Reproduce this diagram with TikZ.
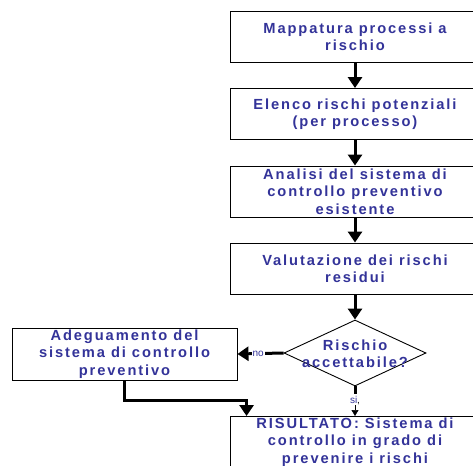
\documentclass[tikz,border=0pt]{standalone}
\usepackage{fontspec}
\setmainfont{Liberation Sans}
\newfontfamily\lsf[LetterSpace=13]{Liberation Sans Bold}
\usetikzlibrary{arrows.meta,shapes.geometric}
\definecolor{txtblue}{RGB}{51,51,153}
\tikzset{
  stepbox/.style={draw=black, line width=0.9pt, fill=white, minimum width=250pt, minimum height=51pt,
    inner sep=0pt, align=center, font=\lsf\fontsize{14.67}{17.3}\selectfont, text=txtblue},
  decision/.style={diamond, draw=black, line width=0.9pt, fill=white, minimum width=142pt, minimum height=66pt,
    aspect=2.15, inner sep=0pt},
  dtext/.style={align=center, inner sep=0pt, font=\lsf\fontsize{14.67}{17}\selectfont, text=txtblue},
  flow/.style={line width=3pt, -{Triangle[length=11pt,width=14pt]}},
  lbl/.style={font=\fontsize{10}{11}\selectfont, text=txtblue, fill=white, inner sep=1pt}
}
\begin{document}
\begin{tikzpicture}[x=1pt,y=-1pt]
\useasboundingbox (0,0) rectangle (473,465);
\clip (0,0) rectangle (473,465);
\node[stepbox] (b1) at (355,36.5) {Mappatura processi a\\rischio};
\node[stepbox] (b2) at (355,114) {Elenco rischi potenziali\\(per processo)};
\node[stepbox] (b3) at (355,191.5) {Analisi del sistema di\\controllo preventivo\\esistente};
\node[stepbox] (b4) at (355,268.5) {Valutazione dei rischi\\residui};
\node[decision] (d) at (355,353) {};
\node[dtext] (dt) at (355,354) {Rischio\\accettabile?};
\node[stepbox, minimum width=225pt, minimum height=52pt] (adj) at (124.5,354) {Adeguamento del\\sistema di controllo\\preventivo};
\node[stepbox, inner ysep=1.5pt, anchor=north] (res) at (355,416) {RISULTATO: Sistema di\\controllo in grado di\\prevenire i rischi};
\draw[flow] (b1) -- (b2);
\draw[flow] (b2) -- (b3);
\draw[flow] (b3) -- (b4);
\draw[flow] (b4) -- (d);
\draw[flow] (d.west) -- (adj.east) node[lbl, pos=0.55] {no};
\draw[line width=3pt] (d.south) -- ++(0,8) coordinate (dsi);
\node[lbl, anchor=north, inner sep=0.5pt] (si) at ([yshift=-1pt]dsi) {si\textcolor{black}{,}};
\draw[line width=0.6pt, -{Triangle[length=6pt,width=7pt]}] (si.south) -- (res.north);
\draw[flow] (adj.south) -- ++(0,20) -| ([xshift=17pt]res.north west);
\end{tikzpicture}
\end{document}
